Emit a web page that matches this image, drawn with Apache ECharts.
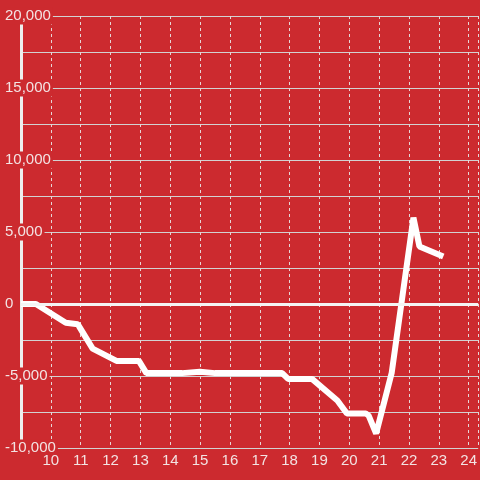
<!DOCTYPE html>
<html>
<head>
<meta charset="utf-8">
<script src="https://cdn.jsdelivr.net/npm/echarts@6/dist/echarts.min.js"></script>
<style>
  html, body { margin: 0; padding: 0; background: #cc2a2f; }
  #chart { width: 480px; height: 480px; }
</style>
</head>
<body>
<div id="chart"></div>
<script>
    // hour of day / running balance
    var hours = [9.0, 9.5, 10.5, 10.9, 11.4, 12.2, 12.95, 13.2, 14.4, 15.0, 15.5, 17.75, 17.95, 18.75, 19.6, 19.92, 20.55, 20.65, 20.9, 21.42, 22.15, 22.35, 23.15];
    var balance = [0, 0, -1300, -1400, -3100, -3950, -3950, -4800, -4800, -4700, -4800, -4800, -5200, -5200, -6700, -7600, -7600, -7750, -9000, -4800, 6000, 4000, 3300];
    var yTicks = [-10000, -5000, 0, 5000, 10000, 15000, 20000];

    var red = '#cc2a2f';
    var txt = '#f3e3e3';

    function commas(v) {
        return String(v).replace(/\B(?=(\d{3})+(?!\d))/g, ',');
    }

    var chart = echarts.init(document.getElementById('chart'), null, { renderer: 'canvas' });

    var points = hours.map(function (h, i) { return [h, balance[i]]; });

    var option = {
        backgroundColor: red,
        animation: false,
        grid: {
            left: 21,
            right: 0,
            top: 16,
            bottom: 32
        },
        xAxis: {
            type: 'value',
            min: 9,
            max: 24.32,
            interval: 1,
            axisLine: { show: false },
            axisTick: { show: false },
            axisLabel: {
                showMinLabel: false,
                color: txt,
                fontSize: 15,
                fontFamily: 'Liberation Sans',
                margin: 5
            },
            splitLine: {
                show: true,
                lineStyle: { color: '#e6d6d6', width: 1, type: [3, 3] }
            }
        },
        yAxis: {
            type: 'value',
            min: yTicks[0],
            max: yTicks[yTicks.length - 1],
            interval: 5000,
            axisLine: { show: true, lineStyle: { color: '#eeeeee', width: 3 } },
            axisTick: { show: false },
            minorTick: { show: false, splitNumber: 2 },
            axisLabel: {
                color: txt,
                fontSize: 15,
                fontFamily: 'Liberation Sans',
                align: 'left',
                margin: 16,
                backgroundColor: red,
                padding: [1, 2, 1, 0],
                formatter: function (v) { return commas(v); }
            },
            splitLine: {
                show: true,
                lineStyle: { color: '#d2d2d2', width: 1 }
            },
            minorSplitLine: {
                show: true,
                lineStyle: { color: '#d2d2d2', width: 1 }
            }
        },
        series: [{
            type: 'line',
            data: points,
            showSymbol: false,
            lineStyle: { color: '#ffffff', width: 6, join: 'bevel' },
            z: 3,
            markLine: {
                silent: true,
                symbol: 'none',
                label: { show: false },
                lineStyle: { color: '#f4f4f4', width: 3, type: 'solid' },
                data: [{ yAxis: 0 }]
            }
        }]
    };

    chart.setOption(option);
</script>
</body>
</html>
